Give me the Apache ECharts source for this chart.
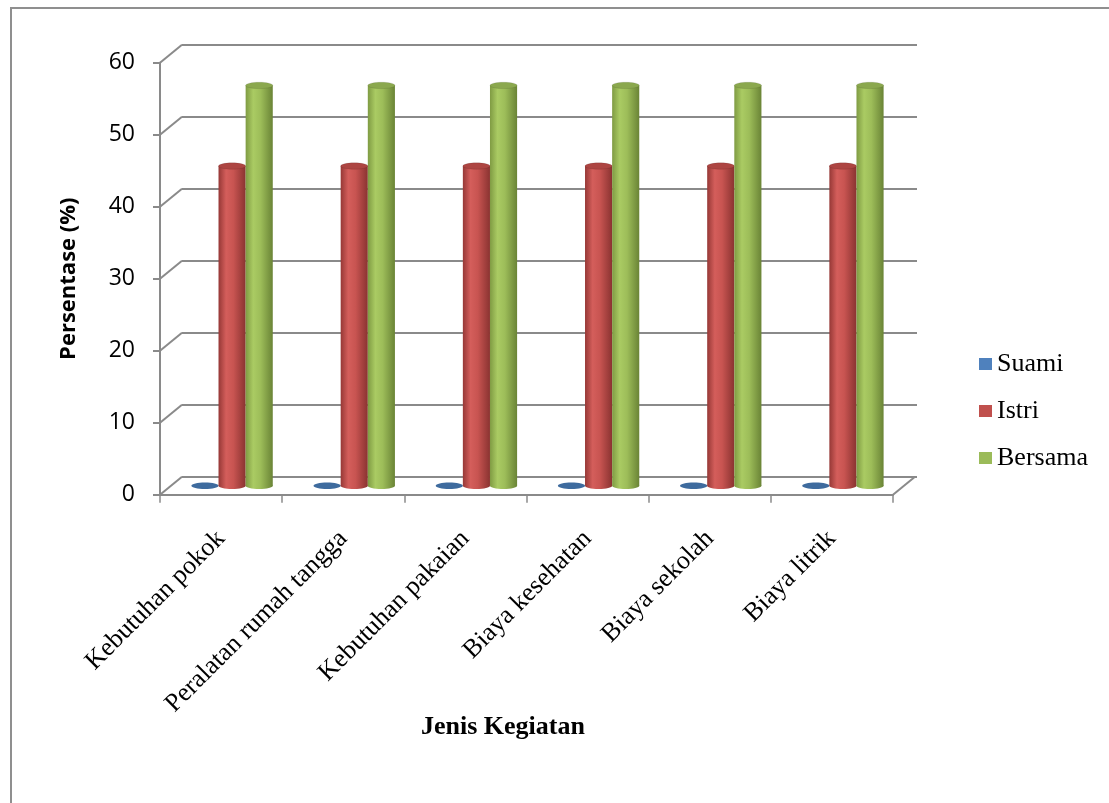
<!DOCTYPE html>
<html>
<head>
<meta charset="utf-8">
<script src="https://cdn.jsdelivr.net/npm/echarts@6/dist/echarts.min.js"></script>
<style>
html,body{margin:0;padding:0;background:#fff;}
#chart{width:1109px;height:803px;}
</style>
</head>
<body>
<div id="chart"></div>
<script>
// ---- data ----
const categories = ['Kebutuhan pokok', 'Peralatan rumah tangga', 'Kebutuhan pakaian', 'Biaya kesehatan', 'Biaya sekolah', 'Biaya litrik'];
const seriesNames = ['Suami', 'Istri', 'Bersama'];
const suami = [0, 0, 0, 0, 0, 0];
const istri = [44.4, 44.4, 44.4, 44.4, 44.4, 44.4];
const bersama = [55.6, 55.6, 55.6, 55.6, 55.6, 55.6];
const yTicks = [0, 10, 20, 30, 40, 50, 60];

// ---- layout / style ----
const FRONT = { left: 160, top: 62.7, width: 733, height: 432 };
const DX = 22, DY = -18;              // depth offset of back wall
const BAR_FRAC = 0.222;               // cylinder width as fraction of band
const RY = 3.2;                       // ellipse vertical radius
const GRID_COLOR = '#8a8a8a';

const baseColors = ['#4F81BD', '#C0504D', '#9BBB59'];
const bodyGrad = [
  null,
  [[0, '#963836'], [0.28, '#d45e5b'], [0.55, '#c85451'], [1, '#8a3331']],
  [[0, '#7f9b43'], [0.28, '#aacb63'], [0.55, '#9dbd59'], [1, '#6a8436']]
];
const topColors = ['#3E6B9E', '#ad4542', '#8ba84e'];

function grad(stops) {
  return { type: 'linear', x: 0, y: 0, x2: 1, y2: 0,
    colorStops: stops.map(s => ({ offset: s[0], color: s[1] })) };
}

function cylinder(si) {
  return function (params, api) {
    const cat = api.value(0), val = api.value(1);
    const band = api.size([1, 0])[0];
    const w = band * BAR_FRAC;
    const top = api.coord([cat, val]);
    const base = api.coord([cat, 0]);
    const cx = top[0] + (si - 1) * w;
    const rx = w / 2;
    const children = [];
    if (base[1] - top[1] > 0.5) {
      children.push({ type: 'ellipse', shape: { cx: cx, cy: base[1], rx: rx, ry: RY }, style: { fill: grad(bodyGrad[si]) } });
      children.push({ type: 'rect', shape: { x: cx - rx, y: top[1], width: w, height: base[1] - top[1] }, style: { fill: grad(bodyGrad[si]) } });
      children.push({ type: 'ellipse', shape: { cx: cx, cy: top[1], rx: rx, ry: RY }, style: { fill: topColors[si], stroke: 'rgba(0,0,0,0.12)', lineWidth: 0.8 } });
    } else {
      children.push({ type: 'ellipse', shape: { cx: cx, cy: base[1], rx: rx, ry: RY }, style: { fill: topColors[si] } });
    }
    return { type: 'group', children: children };
  };
}

function connectors(params, api) {
  const v = api.value(1);
  const band = api.size([1, 0])[0];
  const p = api.coord([0, v]);
  const xl = p[0] - band / 2;
  const lineStyle = { stroke: GRID_COLOR, lineWidth: 2 };
  const children = [{ type: 'line', shape: { x1: xl, y1: p[1], x2: xl + DX, y2: p[1] + DY }, style: lineStyle }];
  if (v === 0) {
    const q = api.coord([categories.length - 1, 0]);
    const xr = q[0] + band / 2;
    children.push({ type: 'line', shape: { x1: xr, y1: q[1], x2: xr + DX, y2: q[1] + DY }, style: lineStyle });
  }
  return { type: 'group', children: children };
}

const chart = echarts.init(document.getElementById('chart'), null, { renderer: 'canvas' });

const valueArrays = [suami, istri, bersama];
const cylSeries = seriesNames.map((name, si) => ({
  name: name,
  type: 'custom',
  xAxisIndex: 2,
  yAxisIndex: 2,
  renderItem: cylinder(si),
  itemStyle: { color: baseColors[si] },
  data: valueArrays[si].map((v, i) => [i, v]),
  z: 5 + si
}));

chart.setOption({
  animation: false,
  backgroundColor: '#ffffff',
  legend: {
    orient: 'vertical',
    left: 974,
    top: 346,
    itemWidth: 13,
    itemHeight: 12,
    itemGap: 21,
    icon: 'rect',
    data: seriesNames,
    textStyle: { fontFamily: 'Liberation Serif', fontSize: 26, color: '#000', lineHeight: 26 }
  },
  grid: [
    { left: FRONT.left, top: FRONT.top, width: FRONT.width, height: FRONT.height },
    { left: FRONT.left + DX, top: FRONT.top + DY, width: FRONT.width + 2, height: FRONT.height },
    { left: FRONT.left + DX / 2, top: FRONT.top + DY / 2, width: FRONT.width, height: FRONT.height }
  ],
  xAxis: [
    {
      gridIndex: 0, type: 'category', data: categories,
      axisLine: { lineStyle: { color: GRID_COLOR, width: 2 } },
      axisTick: { show: true, length: 8, lineStyle: { color: GRID_COLOR, width: 1.5 } },
      axisLabel: { rotate: 45, margin: 40, interval: 0, fontFamily: 'Liberation Serif', fontSize: 26, color: '#000' },
      splitLine: { show: false }
    },
    { gridIndex: 1, type: 'category', data: categories, show: false },
    { gridIndex: 2, type: 'category', data: categories, show: false }
  ],
  yAxis: [
    {
      gridIndex: 0, type: 'value', min: 0, max: 60, interval: 10,
      name: 'Persentase (%)', nameLocation: 'middle', nameGap: 80, nameRotate: 90,
      nameTextStyle: { fontFamily: 'Open Sans', fontWeight: 'bold', fontSize: 22, color: '#000' },
      axisLine: { show: true, lineStyle: { color: GRID_COLOR, width: 2 } },
      axisTick: { show: true, length: 7, lineStyle: { color: GRID_COLOR, width: 2 } },
      axisLabel: { margin: 25, fontFamily: 'Open Sans', fontSize: 23, color: '#000' },
      splitLine: { show: false }
    },
    {
      gridIndex: 1, type: 'value', min: 0, max: 60, interval: 10,
      axisLine: { show: false }, axisTick: { show: false }, axisLabel: { show: false },
      splitLine: { show: true, lineStyle: { color: GRID_COLOR, width: 2 } }
    },
    { gridIndex: 2, type: 'value', min: 0, max: 60, interval: 10, show: false, splitLine: { show: false } }
  ],
  graphic: [
    { type: 'polyline', shape: { points: [[11, 803], [11, 8], [1109, 8]] }, style: { stroke: '#8f8f8f', lineWidth: 2, fill: null }, z: 0 },
    { type: 'text', left: 421, top: 714, style: { text: 'Jenis Kegiatan', fontFamily: 'Liberation Serif', fontWeight: 'bold', fontSize: 26, fill: '#000' } }
  ],
  series: [
    {
      name: 'depth', type: 'custom', xAxisIndex: 0, yAxisIndex: 0,
      renderItem: connectors, silent: true,
      data: yTicks.map(v => [0, v]), z: 1
    }
  ].concat(cylSeries)
});
</script>
</body>
</html>
